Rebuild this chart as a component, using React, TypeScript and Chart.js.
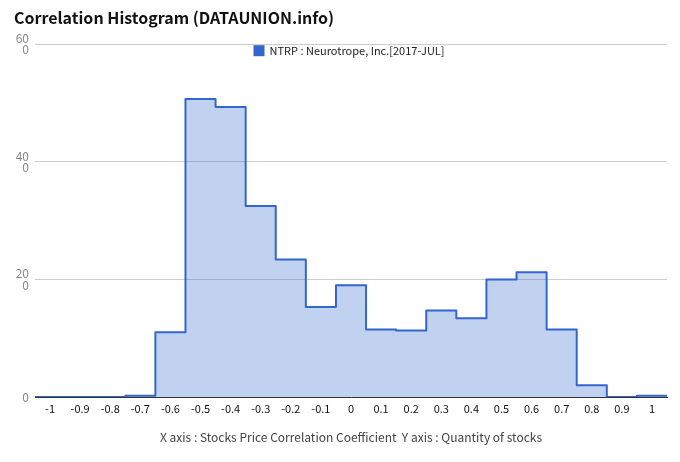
import React, { useEffect, useRef } from "react";
import { Chart, registerables } from "chart.js";

Chart.register(...registerables);

const TITLE = "Correlation Histogram (DATAUNION.info)";
const SERIES_LABEL = "NTRP : Neurotrope, Inc.[2017-JUL]";
const X_AXIS_TITLE =
  "X axis : Stocks Price Correlation Coefficient  Y axis : Quantity of stocks";

const CATEGORIES = [
  -1, -0.9, -0.8, -0.7, -0.6, -0.5, -0.4, -0.3, -0.2, -0.1, 0, 0.1, 0.2, 0.3,
  0.4, 0.5, 0.6, 0.7, 0.8, 0.9, 1,
];
const COUNTS = [
  0, 0, 0, 2, 110, 507, 493, 325, 234, 153, 190, 115, 113, 147, 134, 200, 212,
  115, 20, 0, 2,
];
const Y_TICKS = [0, 200, 400, 600];
const BIN_HALF = 0.05;

const LINE_COLOR = "#3366cc";
const FILL_COLOR = "rgba(51,102,204,0.3)";
const FONT = "'Noto Sans CJK KR', 'Noto Sans', sans-serif";

const legendPlugin = {
  id: "topLegend",
  afterDraw(chart: any) {
    const { ctx, chartArea } = chart;
    ctx.save();
    ctx.font = `11px ${FONT}`;
    const tw = ctx.measureText(SERIES_LABEL).width;
    const box = 11;
    const gap = 5;
    const total = box + gap + tw;
    const x0 = (chartArea.left + chartArea.right) / 2 - total / 2 - 2;
    const cy = chartArea.top + 6;
    ctx.fillStyle = LINE_COLOR;
    ctx.fillRect(x0, cy - 5, box, box);
    ctx.fillStyle = "#222";
    ctx.textBaseline = "middle";
    ctx.textAlign = "left";
    ctx.fillText(SERIES_LABEL, x0 + box + gap, cy + 1);
    ctx.restore();
  },
};

export default function App() {
  const canvasRef = useRef<HTMLCanvasElement | null>(null);

  useEffect(() => {
    if (!canvasRef.current) return;
    const points = CATEGORIES.map((c, i) => ({ x: c - BIN_HALF, y: COUNTS[i] }));
    points.push({
      x: CATEGORIES[CATEGORIES.length - 1] + BIN_HALF,
      y: COUNTS[COUNTS.length - 1],
    });

    const chart = new Chart(canvasRef.current, {
      type: "line",
      data: {
        datasets: [
          {
            label: SERIES_LABEL,
            data: points,
            stepped: "before",
            borderColor: LINE_COLOR,
            backgroundColor: FILL_COLOR,
            borderWidth: 2,
            borderJoinStyle: "round",
            fill: "origin",
            pointRadius: 0,
            pointHoverRadius: 0,
          },
        ],
      },
      options: {
        animation: false,
        responsive: true,
        maintainAspectRatio: false,
        layout: { padding: { left: 14, right: 13, top: 0, bottom: 0 } },
        plugins: {
          legend: { display: false },
          tooltip: { enabled: false },
          title: {
            display: true,
            text: TITLE,
            align: "start",
            color: "#111",
            font: { family: FONT, size: 16, weight: "bold" },
            padding: { top: 8, bottom: 17 },
          },
        },
        scales: {
          x: {
            type: "linear",
            min: CATEGORIES[0] - BIN_HALF,
            max: CATEGORIES[CATEGORIES.length - 1] + BIN_HALF,
            afterBuildTicks: (s: any) => {
              s.ticks = CATEGORIES.map((v) => ({ value: v }));
            },
            afterFit: (s: any) => {
              s.height = 65;
            },
            ticks: {
              autoSkip: false,
              maxRotation: 0,
              color: "#111",
              font: { family: FONT, size: 11 },
              padding: 5,
              callback: (v: any) => String(Math.round(Number(v) * 10) / 10),
            },
            grid: { display: false, drawTicks: false },
            border: { display: true, color: "#333", width: 1 },
            title: {
              display: true,
              text: X_AXIS_TITLE,
              color: "#444",
              font: { family: FONT, size: 12 },
              padding: { top: 0, bottom: 17 },
            },
          },
          y: {
            min: 0,
            max: 600,
            afterBuildTicks: (s: any) => {
              s.ticks = Y_TICKS.map((v) => ({ value: v }));
            },
            afterFit: (s: any) => {
              s.width = 21;
            },
            ticks: {
              color: "#888",
              font: { family: FONT, size: 12, lineHeight: 0.95 },
              padding: 6,
              callback: (v: any) => {
                const s = String(v);
                return s.length > 2 ? [s.slice(0, 2), s.slice(2)] : s;
              },
            },
            grid: { color: "#cccccc", drawTicks: false },
            border: { display: false },
          },
        },
      },
      plugins: [legendPlugin],
    });
    return () => chart.destroy();
  }, []);

  return (
    <div
      style={{
        position: "fixed",
        left: 0,
        top: 0,
        width: 680,
        height: 462,
        background: "#fff",
      }}
    >
      <canvas ref={canvasRef} />
    </div>
  );
}
